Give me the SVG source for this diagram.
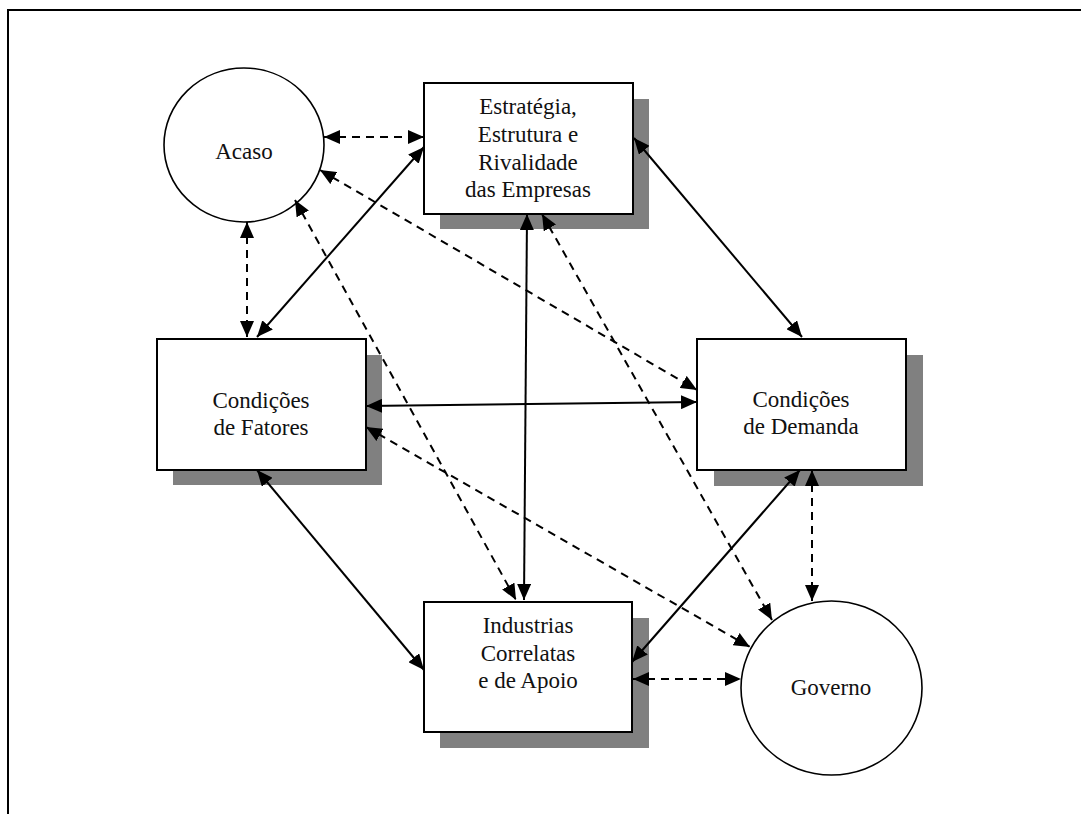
<svg xmlns="http://www.w3.org/2000/svg" width="1081" height="814" viewBox="0 0 1081 814">
<defs>
<marker id="ah" markerUnits="userSpaceOnUse" markerWidth="17" markerHeight="14" refX="16" refY="7" orient="auto-start-reverse" viewBox="0 0 17 14">
<path d="M0,0 L16,7 L0,14 z" fill="#000"/>
</marker>
</defs>
<style>
.box{fill:#fff;stroke:#000;stroke-width:2}
.shadow{fill:#808080}
.circ{fill:#fff;stroke:#000;stroke-width:1.6}
.lbl{font-family:'Liberation Serif','Times New Roman',serif;font-size:23px;fill:#111;text-anchor:middle}
.solid{stroke:#000;stroke-width:2;fill:none;marker-start:url(#ah);marker-end:url(#ah)}
.dash{stroke:#000;stroke-width:2;fill:none;stroke-dasharray:8 6;marker-start:url(#ah);marker-end:url(#ah)}
</style>
<rect width="1081" height="814" fill="#fff"/>
<g id="frame" stroke="#000" stroke-width="2" fill="none">
<path d="M8,814 L8,10 L1081,10"/>
</g>
<g id="acaso" font-family="Liberation Serif, serif">
<ellipse class="circ" cx="244" cy="145" rx="80" ry="77"/>
<text class="lbl" x="244" y="159">Acaso</text>
</g>
<g id="estrategia" font-family="Liberation Serif, serif">
<rect class="shadow" x="440" y="99" width="209" height="130"/>
<rect class="box" x="424" y="83" width="209" height="131"/>
<text class="lbl" x="528" y="114">Estratégia,</text>
<text class="lbl" x="528" y="142">Estrutura e</text>
<text class="lbl" x="528" y="170">Rivalidade</text>
<text class="lbl" x="528" y="197">das Empresas</text>
</g>
<g id="fatores" font-family="Liberation Serif, serif">
<rect class="shadow" x="173" y="355" width="209" height="130"/>
<rect class="box" x="157" y="339" width="209" height="131"/>
<text class="lbl" x="261" y="408">Condições</text>
<text class="lbl" x="261" y="435">de Fatores</text>
</g>
<g id="demanda" font-family="Liberation Serif, serif">
<rect class="shadow" x="714" y="355" width="209" height="131"/>
<rect class="box" x="697" y="339" width="209" height="131"/>
<text class="lbl" x="801" y="407">Condições</text>
<text class="lbl" x="801" y="434">de Demanda</text>
</g>
<g id="industrias" font-family="Liberation Serif, serif">
<rect class="shadow" x="440" y="618" width="209" height="130"/>
<rect class="box" x="424" y="602" width="208" height="130"/>
<text class="lbl" x="528" y="633">Industrias</text>
<text class="lbl" x="528" y="661">Correlatas</text>
<text class="lbl" x="528" y="688">e de Apoio</text>
</g>
<g id="governo" font-family="Liberation Serif, serif">
<ellipse class="circ" cx="831.5" cy="688" rx="90.5" ry="87"/>
<text class="lbl" x="831" y="695">Governo</text>
</g>
<g id="connectors">
<line class="dash" x1="324" y1="137" x2="424" y2="137"/>
<line class="solid" x1="257" y1="337" x2="424" y2="147"/>
<line class="dash" x1="247" y1="222" x2="247" y2="337"/>
<line class="dash" x1="320" y1="170" x2="697" y2="390"/>
<line class="dash" x1="295" y1="200" x2="516" y2="600"/>
<line class="solid" x1="527" y1="214" x2="524" y2="600"/>
<line class="dash" x1="542" y1="214" x2="772" y2="620"/>
<line class="solid" x1="634" y1="138" x2="802" y2="337"/>
<line class="solid" x1="366" y1="406" x2="697" y2="402"/>
<line class="dash" x1="366" y1="427" x2="750" y2="647"/>
<line class="solid" x1="257" y1="470" x2="424" y2="670"/>
<line class="solid" x1="800" y1="470" x2="632" y2="662"/>
<line class="dash" x1="812" y1="470" x2="812" y2="601"/>
<line class="dash" x1="633" y1="679" x2="741" y2="679"/>
</g>
</svg>
